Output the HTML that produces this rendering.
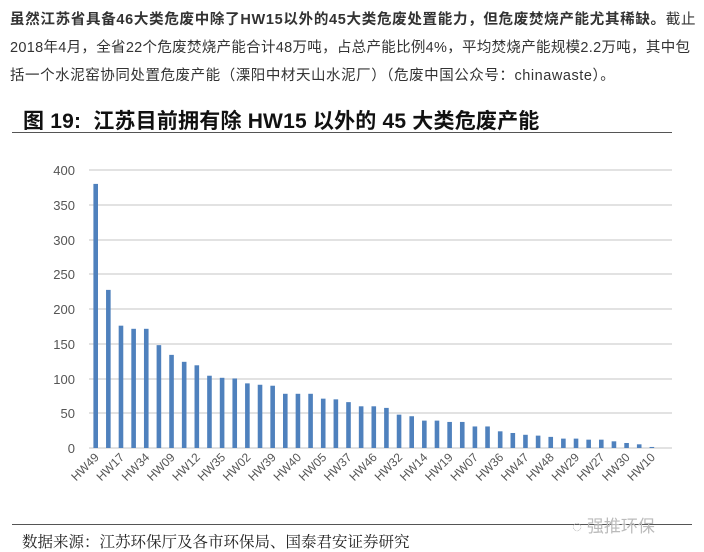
<!DOCTYPE html>
<html><head><meta charset="utf-8"><style>
body{margin:0;width:704px;height:551px;background:#fff;overflow:hidden;position:relative;font-family:"Liberation Sans","Noto Sans CJK SC",sans-serif;}
.p{position:absolute;left:10px;font-size:14.5px;color:#333;white-space:nowrap}
</style></head><body>
<div class="p" style="top:8px;letter-spacing:0.7px"><b>虽然江苏省具备46大类危废中除了HW15以外的45大类危废处置能力，但危废焚烧产能尤其稀缺。</b>截止</div>
<div class="p" style="top:36px;letter-spacing:0.3px">2018年4月，全省22个危废焚烧产能合计48万吨，占总产能比例4%，平均焚烧产能规模2.2万吨，其中包</div>
<div class="p" style="top:64px;letter-spacing:0.55px">括一个水泥窑协同处置危废产能（溧阳中材天山水泥厂）（危废中国公众号：chinawaste）。</div>
<div style="position:absolute;left:23px;top:105px;font-size:21px;font-weight:bold;color:#111;letter-spacing:0.2px">图 19:&nbsp; 江苏目前拥有除 HW15 以外的 45 大类危废产能</div>
<div style="position:absolute;left:12px;top:132px;width:660px;height:1px;background:#555"></div>
<svg style="position:absolute;left:0;top:0" width="704" height="551">
<g stroke="#d9d9d9" stroke-width="1.5">
<line x1="89" x2="672" y1="170" y2="170"/><line x1="89" x2="672" y1="205" y2="205"/><line x1="89" x2="672" y1="240" y2="240"/><line x1="89" x2="672" y1="274" y2="274"/><line x1="89" x2="672" y1="309" y2="309"/><line x1="89" x2="672" y1="344" y2="344"/><line x1="89" x2="672" y1="379" y2="379"/><line x1="89" x2="672" y1="413" y2="413"/><line x1="89" x2="672" y1="448" y2="448"/>
</g>
<g font-size="13" fill="#555" text-anchor="end" font-family="Liberation Sans,sans-serif">
<text x="75" y="175">400</text><text x="75" y="210">350</text><text x="75" y="245">300</text><text x="75" y="279">250</text><text x="75" y="314">200</text><text x="75" y="349">150</text><text x="75" y="384">100</text><text x="75" y="418">50</text><text x="75" y="453">0</text>
</g>
<g id="bars" fill="#4f81bd"></g>
<g id="labs" font-size="12" fill="#555" text-anchor="end" font-family="Liberation Sans,sans-serif"></g>
</svg>
<div style="position:absolute;left:12px;top:524px;width:680px;height:1px;background:#555"></div>
<div style="position:absolute;left:22px;top:530px;font-size:15.5px;color:#222;font-family:'Liberation Serif','Noto Serif CJK SC',serif">数据来源：江苏环保厅及各市环保局、国泰君安证券研究</div>
<div style="position:absolute;left:572px;top:512px;font-size:17px;color:#bbb">◌ 强推环保</div>
<script>
var v=[380,227.5,176,171.5,171.5,148,134,124,119,104,101,100,93,91,89.6,78,78,78,71,70,66,60,60,57.7,48,45.7,39.4,39.4,37.5,37.5,31,31,24,21.6,19,17.8,16,13.5,13.5,12,12,9.6,7.2,5.3,1.5];
var L=["HW49","HW17","HW34","HW09","HW12","HW35","HW02","HW39","HW40","HW05","HW37","HW46","HW32","HW14","HW19","HW07","HW36","HW47","HW48","HW29","HW27","HW30","HW10"];
var b="",t="";
for(var i=0;i<45;i++){var x=95.7+i*12.64,h=v[i]*0.695;b+='<rect x="'+(x-2.3)+'" y="'+(448-h)+'" width="4.6" height="'+h+'"/>';}
for(var j=0;j<23;j++){var x=95.7+2*j*12.64+4;t+='<text transform="translate('+x+',458) rotate(-45)">'+L[j]+'</text>';}
document.getElementById("bars").innerHTML=b;document.getElementById("labs").innerHTML=t;
</script>
</body></html>
